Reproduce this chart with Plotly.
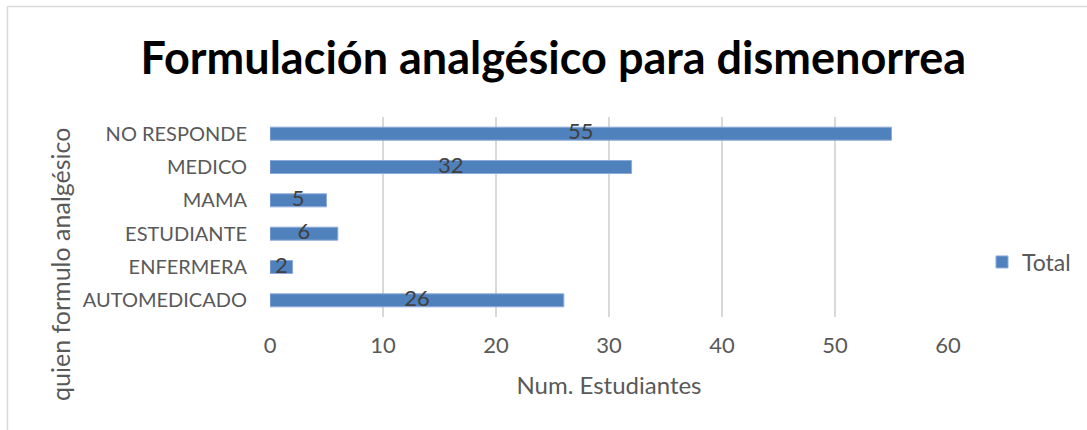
import plotly.graph_objects as go

categories = ["AUTOMEDICADO", "ENFERMERA", "ESTUDIANTE", "MAMA", "MEDICO", "NO RESPONDE"]
values = [26, 2, 6, 5, 32, 55]
x_ticks = [0, 10, 20, 30, 40, 50, 60]
series_name = "Total"
title_text = "Formulación analgésico para dismenorrea"
x_title = "Num. Estudiantes"
y_title = "quien formulo analgésico"

W, H = 1087, 430
L, R, T, B = 270, 1087 - 948, 117, 430 - 317
PW, PH = W - L - R, H - T - B

def px_x(p):
    return (p - L) / PW

def px_y(p):
    return (H - B - p) / PH

FONT = "Lato"
BAR = "#4F81BD"

fig = go.Figure()
fig.add_trace(go.Bar(
    x=values, y=categories, orientation="h", name=series_name,
    marker=dict(color=BAR, line=dict(color="#8EAADB", width=1)),
    width=0.39, hoverinfo="x+y",
))
fig.add_trace(go.Scatter(
    x=[v / 2 for v in values], y=categories, mode="text",
    text=[str(v) for v in values], textposition="middle center",
    textfont=dict(family=FONT, size=22, color="#404040"),
    showlegend=False, hoverinfo="skip",
))

fig.update_layout(
    width=W, height=H,
    margin=dict(l=L, r=R, t=T, b=B, autoexpand=False),
    paper_bgcolor="white", plot_bgcolor="white",
    title=dict(text="<b>" + title_text + "</b>", x=0.509, xanchor="center",
               y=1 - 58 / H, yanchor="middle",
               font=dict(family=FONT, size=45, color="#000000")),
    xaxis=dict(range=[0, 60], tickvals=x_ticks, ticktext=[str(t) for t in x_ticks],
               showgrid=True, gridcolor="#D9D9D9", gridwidth=1.5, zeroline=False,
               showline=False, ticks="", ticklabelstandoff=13,
               tickfont=dict(family=FONT, size=22, color="#595959"),
               title=dict(text=x_title, standoff=20,
                          font=dict(family=FONT, size=24, color="#595959"))),
    yaxis=dict(showgrid=False, zeroline=False, showline=False, ticks="",
               ticklabelstandoff=22,
               tickfont=dict(family=FONT, size=20, color="#595959")),
    legend=dict(x=px_x(982), xanchor="left", y=px_y(262), yanchor="middle",
                font=dict(family=FONT, size=23, color="#595959"),
                bgcolor="rgba(0,0,0,0)"),
    showlegend=True,
    annotations=[dict(text=y_title, textangle=-90, x=px_x(60), y=px_y(264),
                      xref="paper", yref="paper", xanchor="center", yanchor="middle",
                      showarrow=False, font=dict(family=FONT, size=25, color="#595959"))],
    shapes=[
        dict(type="line", xref="paper", yref="paper", x0=px_x(7.5), x1=px_x(1090),
             y0=px_y(6.5), y1=px_y(6.5), line=dict(color="#D9D9D9", width=1.5)),
        dict(type="line", xref="paper", yref="paper", x0=px_x(7.5), x1=px_x(7.5),
             y0=px_y(6.5), y1=px_y(440), line=dict(color="#D9D9D9", width=1.5)),
    ],
)

fig.write_html("out.html", config={"displayModeBar": False},
               post_script="document.body.style.margin='0';document.body.style.padding='0';")
